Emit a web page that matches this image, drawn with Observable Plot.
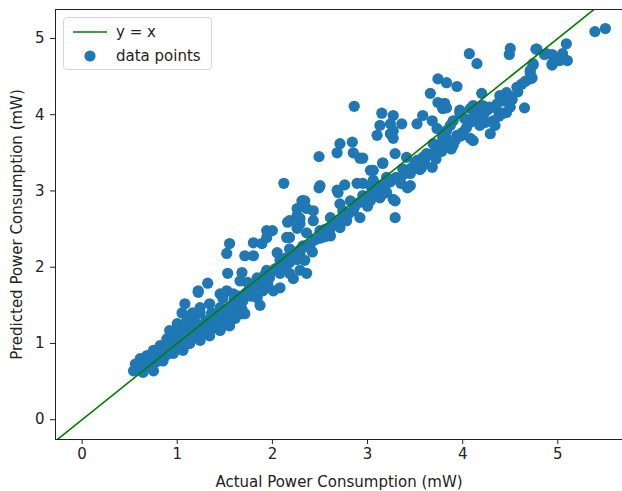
<!DOCTYPE html>
<html>
<head>
<meta charset="utf-8">
<script src="https://cdn.jsdelivr.net/npm/d3@7"></script>
<script src="https://cdn.jsdelivr.net/npm/@observablehq/plot@0.6"></script>
<style>
  html, body { margin: 0; padding: 0; background: #fff; }
  #wrap { position: relative; width: 622px; height: 491px; font-family: "DejaVu Sans", sans-serif; }
  #legend { position: absolute; left: 63px; top: 17px; width: 149px; height: 53px; box-sizing: border-box;
            border: 1px solid #d6d6d6; border-radius: 4px; background: rgba(255,255,255,0.85);
            font-size: 15px; color: #222; }
  .row { position: absolute; left: 0; height: 20px; display: flex; align-items: center; }
  .sw { width: 52px; display: flex; justify-content: center; align-items: center; }
</style>
</head>
<body>
<div id="wrap">
  <div id="chart"></div>
  <div id="legend">
    <div class="row" style="top:4px"><div class="sw"><svg width="34" height="4"><line x1="0" y1="2" x2="34" y2="2" stroke="#008000" stroke-width="1.6"/></svg></div><span>y = x</span></div>
    <div class="row" style="top:28px"><div class="sw"><svg width="12" height="12"><circle cx="6" cy="6" r="5.6" fill="#1f77b4"/></svg></div><span>data points</span></div>
  </div>
</div>
<script>
// domains & ticks
const xDomain = [-0.28, 5.68];
const yDomain = [-0.26, 5.38];
const xTicks = [0, 1, 2, 3, 4, 5];
const yTicks = [0, 1, 2, 3, 4, 5];
const xLabel = "Actual Power Consumption (mW)";
const yLabel = "Predicted Power Consumption (mW)";

// [actual, predicted] pairs
const scatter = [
  [0.54,0.64],[0.56,0.73],[0.61,0.80],[0.64,0.62],[0.68,0.84],[0.71,0.73],[0.75,0.64],[0.75,0.91],
  [0.60,0.70],[0.66,0.68],[0.70,0.78],[0.78,0.76],[0.82,0.97],[0.85,0.77],[0.80,0.85],[0.88,0.92],
  [0.89,1.06],[0.92,1.17],[0.96,0.87],[0.93,0.98],[1.00,1.26],[1.00,1.02],[1.03,0.95],[1.05,1.40],
  [1.06,0.91],[1.08,1.52],[1.10,1.05],[1.13,1.00],[1.13,1.14],[1.16,1.40],[1.18,1.10],[1.20,1.18],
  [1.22,1.67],[1.24,1.04],[1.24,1.23],[1.24,1.40],[1.28,1.15],[1.30,1.30],[1.32,1.79],[1.34,1.10],
  [1.34,1.30],[1.38,1.22],[1.40,1.35],[1.42,1.20],[1.45,1.17],[1.45,1.39],[1.45,1.65],[1.48,1.30],
  [1.50,1.45],[1.52,1.26],[1.52,1.69],[1.55,1.23],[1.55,1.40],[1.58,1.50],[1.61,1.33],[1.62,1.55],
  [1.66,1.82],[1.68,1.45],[1.69,1.39],[1.71,1.39],
  [0.58,0.66],[0.63,0.75],[0.72,0.70],[0.77,0.84],[0.84,0.90],[0.86,0.82],[0.90,0.86],[0.95,1.05],
  [0.98,0.94],[1.02,1.10],[1.08,0.98],[1.11,1.20],[1.15,1.06],[1.19,1.28],[1.26,1.12],[1.32,1.20],
  [1.36,1.40],[1.42,1.28],[1.47,1.22],[1.57,1.32],[1.63,1.40],[1.10,1.30],[1.03,1.18],[0.97,1.12],
  [1.55,2.31],[1.52,2.18],[1.53,1.92],[1.68,1.93],[1.74,1.80],[1.80,2.32],[1.89,2.31],[1.71,2.15],
  [1.80,2.15],[1.84,1.86],[1.80,1.73],[1.90,1.69],[1.59,1.65],[1.48,1.59],[1.45,1.47],[1.69,1.56],
  [1.84,1.60],[1.87,1.50],[1.34,1.52],[1.24,1.47],[1.22,1.69],[1.94,2.48],[1.94,2.39],[2.15,2.39],
  [2.05,2.19],[2.08,2.09],[2.18,2.24],[2.29,2.19],[2.32,2.28],[2.39,2.26],[2.34,2.09],[2.18,2.06],
  [1.94,1.96],[1.97,1.86],[2.08,1.92],[2.18,1.92],[2.29,1.96],[2.36,1.92],[2.22,1.85],[2.01,1.69],
  [2.08,1.73],[2.32,2.87],[2.36,2.77],[2.26,2.68],[2.16,2.59],[2.29,2.57],[2.12,3.10],[2.00,2.48],
  [2.18,2.39],[2.26,2.51],[2.36,2.45],[2.50,2.48],[2.61,2.52],[2.71,2.52],[2.78,2.61],[2.61,2.41],
  [2.50,2.38],[2.43,2.61],[2.18,2.61],[2.29,2.64],[2.61,2.65],[2.74,2.74],[2.85,2.74],[2.92,2.65],
  [2.26,2.77],[2.31,2.87],[2.43,2.74],
  [1.60,1.58],[1.65,1.62],[1.72,1.66],[1.76,1.72],[1.82,1.78],[1.88,1.82],[1.92,1.90],[1.98,1.94],
  [2.03,1.98],[2.10,2.04],[2.14,2.12],[2.20,2.14],[2.25,2.20],[2.30,2.24],[2.40,2.30],[2.45,2.36],
  [2.52,2.42],[2.56,2.50],[1.78,1.62],[1.95,1.78],[2.12,1.98],[2.26,2.10],[2.42,2.20],[2.55,2.40],
  [2.49,3.45],[2.49,3.04],[2.71,3.62],[2.84,3.64],[2.68,3.50],[2.85,3.50],[2.92,3.43],[3.16,3.36],
  [3.03,3.27],[2.68,3.01],[2.76,3.08],[2.89,3.10],[3.03,3.07],[3.13,3.07],[3.20,2.98],[2.69,2.98],
  [3.27,2.89],[2.71,2.83],[2.82,2.87],[2.95,2.94],[3.03,2.87],[3.13,2.91],[2.86,4.11],[3.13,3.86],
  [3.10,3.73],[3.24,3.88],[3.24,3.75],[3.15,4.02],[3.27,3.99],[3.36,3.88],[3.27,3.79],[3.27,3.69],
  [3.52,3.88],[3.58,3.99],[3.68,3.92],[3.73,3.82],[3.87,3.86],[2.95,3.43],[3.16,3.37],[3.06,3.27],
  [3.37,3.29],[3.45,3.23],[3.57,3.31],[3.68,3.31],[3.34,3.16],[3.45,3.07],[3.20,3.18],[3.06,3.14],
  [2.95,3.10],[3.29,3.49],[3.41,3.44],[3.52,3.40],[3.58,3.44],[3.62,3.49],[3.73,3.53],[3.69,3.62],
  [3.76,3.60],[3.90,3.60],[3.83,3.69],[3.29,2.87],[3.42,3.04],[3.29,2.65],[2.50,3.07],[2.34,2.87],
  [2.60,2.48],[2.66,2.58],[2.72,2.62],[2.80,2.70],[2.86,2.78],[2.90,2.84],[2.98,2.90],[3.05,2.96],
  [3.10,3.00],[3.18,3.05],[3.24,3.12],[3.30,3.18],[3.38,3.22],[3.46,3.30],[3.50,3.36],[3.60,3.40],
  [3.66,3.48],[3.78,3.52],[3.84,3.60],[3.92,3.66],[3.98,3.72],[3.00,2.80],[3.15,2.95],[3.35,3.10],
  [3.55,3.28],[3.72,3.42],[3.88,3.55],
  [3.74,4.47],[3.83,4.42],[3.94,4.37],[3.66,4.28],[3.74,4.16],[3.83,4.09],[4.07,4.80],[4.15,4.67],
  [4.50,4.87],[4.49,4.79],[4.78,4.86],[4.88,4.80],[4.94,4.67],[5.02,4.74],[5.09,4.93],[4.71,4.58],
  [4.74,4.67],[4.71,4.47],[4.20,4.28],[4.39,4.25],[4.46,4.29],[4.57,4.36],[4.65,4.09],[3.81,4.15],
  [3.79,4.08],[3.97,4.06],[4.11,4.12],[4.15,4.03],[4.26,4.06],[4.34,4.09],[4.42,4.02],[4.46,4.03],
  [4.32,3.92],[4.18,3.86],[4.08,3.92],[4.04,3.83],[3.90,3.92],[3.83,3.79],[4.08,3.69],[4.29,3.75],
  [3.79,3.70],[3.94,3.73],[3.97,4.02],[4.08,4.08],[4.08,3.90],[4.15,3.95],[4.21,4.12],[4.00,3.77],
  [4.11,3.66],[4.34,3.86],[4.41,4.01],[4.48,4.25],[5.39,5.09],[5.50,5.13],[4.77,4.86],[4.86,4.79],
  [4.94,4.79],[5.05,4.80],[5.10,4.71],[5.02,4.71],[4.94,4.65],[4.74,4.65],[4.71,4.55],[4.73,4.48],
  [4.02,3.95],[4.12,3.98],[4.22,4.00],[4.28,4.10],[4.36,4.14],[4.44,4.18],[4.52,4.20],[4.58,4.30],
  [4.62,4.40],[4.66,4.44],[4.24,3.90],[4.38,3.98],[4.50,4.10]
];

const identity = xDomain.map(v => ({x: v, y: v}));

const chart = Plot.plot({
  width: 622,
  height: 491,
  marginLeft: 55,
  marginTop: 9,
  marginRight: 0,
  marginBottom: 52,
  style: { fontFamily: "DejaVu Sans, sans-serif", fontSize: "15px", color: "#222", background: "white" },
  x: { domain: xDomain },
  y: { domain: yDomain },
  marks: [
    Plot.dot(scatter, { x: d => d[0], y: d => d[1], r: 5.6, fill: "#1f77b4", stroke: "none" }),
    Plot.line(identity, { x: "x", y: "y", stroke: "#008000", strokeWidth: 1.6, clip: true }),
    Plot.ruleX([xDomain[0]], { stroke: "#222", strokeWidth: 1 }),
    Plot.ruleY([yDomain[0], yDomain[1]], { stroke: "#222", strokeWidth: 1 }),
    Plot.axisX({ ticks: xTicks, tickFormat: d3.format("d"), tickSize: 5, tickPadding: 4, fontSize: 15,
                 label: xLabel, labelAnchor: "center", labelOffset: 47, labelArrow: "none" }),
    Plot.axisY({ ticks: yTicks, tickFormat: d3.format("d"), tickSize: 5, tickPadding: 6, fontSize: 15,
                 label: yLabel, labelAnchor: "center", labelOffset: 44, labelArrow: "none" })
  ]
});
document.getElementById("chart").appendChild(chart);
</script>
</body>
</html>
